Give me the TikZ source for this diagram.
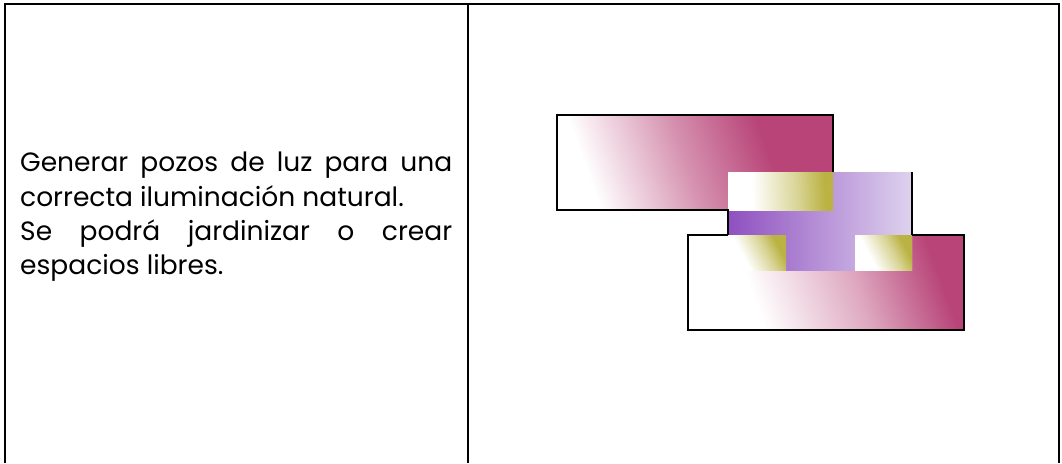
\documentclass[tikz,border=0pt]{standalone}
\usepackage{fontspec}
\setmainfont{Poppins}
\definecolor{mag}{RGB}{184,68,120}
\definecolor{magmid}{RGB}{214,146,176}
\definecolor{purp}{RGB}{142,80,192}
\definecolor{purpmid}{RGB}{176,138,214}
\definecolor{lav}{RGB}{222,210,238}
\definecolor{olive}{RGB}{186,178,66}
\pgfdeclarehorizontalshading{slabtop}{100bp}{color(0bp)=(white); color(25bp)=(white); color(27bp)=(white); color(48bp)=(magmid); color(66bp)=(mag); color(100bp)=(mag)}
\pgfdeclarehorizontalshading{slabbot}{100bp}{color(0bp)=(white); color(25bp)=(white); color(34bp)=(white); color(56bp)=(magmid!80!white); color(74bp)=(mag); color(100bp)=(mag)}
\pgfdeclarehorizontalshading{well}{100bp}{color(0bp)=(white); color(25bp)=(white); color(36bp)=(white); color(58bp)=(white!45!olive); color(72bp)=(olive); color(100bp)=(olive)}
\tikzset{
  frame/.style={line width=2pt, black},
  thinedge/.style={line width=1.2pt, black},
  thickedge/.style={line width=2.6pt, black},
  body/.style={font=\fontsize{26.5}{34.3}\selectfont, anchor=north west, inner sep=0pt, align=left}
}
\begin{document}
\begin{tikzpicture}[x=1pt,y=-1pt]
\useasboundingbox (0,0) rectangle (1062,463);
\fill[white] (0,0) rectangle (1062,463);
% table
\draw[frame] (4.5,463) -- (4.5,4) -- (1058.5,4) -- (1058.5,463);
\draw[line width=1.5pt] (468,4) -- (468,463);
% text
\node[body] (txt) at (20,152) {\makebox[432pt][s]{Generar pozos de luz para una}\\
correcta iluminación natural.\\
\makebox[432pt][s]{Se podrá jardinizar o crear}\\
espacios libres.};
% top slab
\shade[shading=slabtop, shading angle=20] (557,115) rectangle (833,210);
\draw[thinedge] (557,115) -- (833,115) -- (833,172);
% bottom slab
\shade[shading=slabbot, shading angle=20] (688,235) rectangle (964,330);
\draw[thinedge] (688,235) rectangle (964,330);
% purple well
\shade[left color=purp, middle color=purpmid, right color=lav, shading angle=90] (728,172) rectangle (912,270);
% light wells (yellow)
\shade[shading=well, shading angle=3] (728,172) rectangle (833,210);
\shade[shading=well, shading angle=28] (728,235) rectangle (786,270);
\shade[shading=well, shading angle=28] (855,235) rectangle (912,270);
% edges
\draw[thickedge] (557,113.7) -- (557,210) -- (728,210) -- (728,235);
\draw[thinedge] (912,172) -- (912,235);
\draw[thinedge] (688,235) -- (728,235);
\draw[thinedge] (912,235) -- (964,235);
\end{tikzpicture}
\end{document}
